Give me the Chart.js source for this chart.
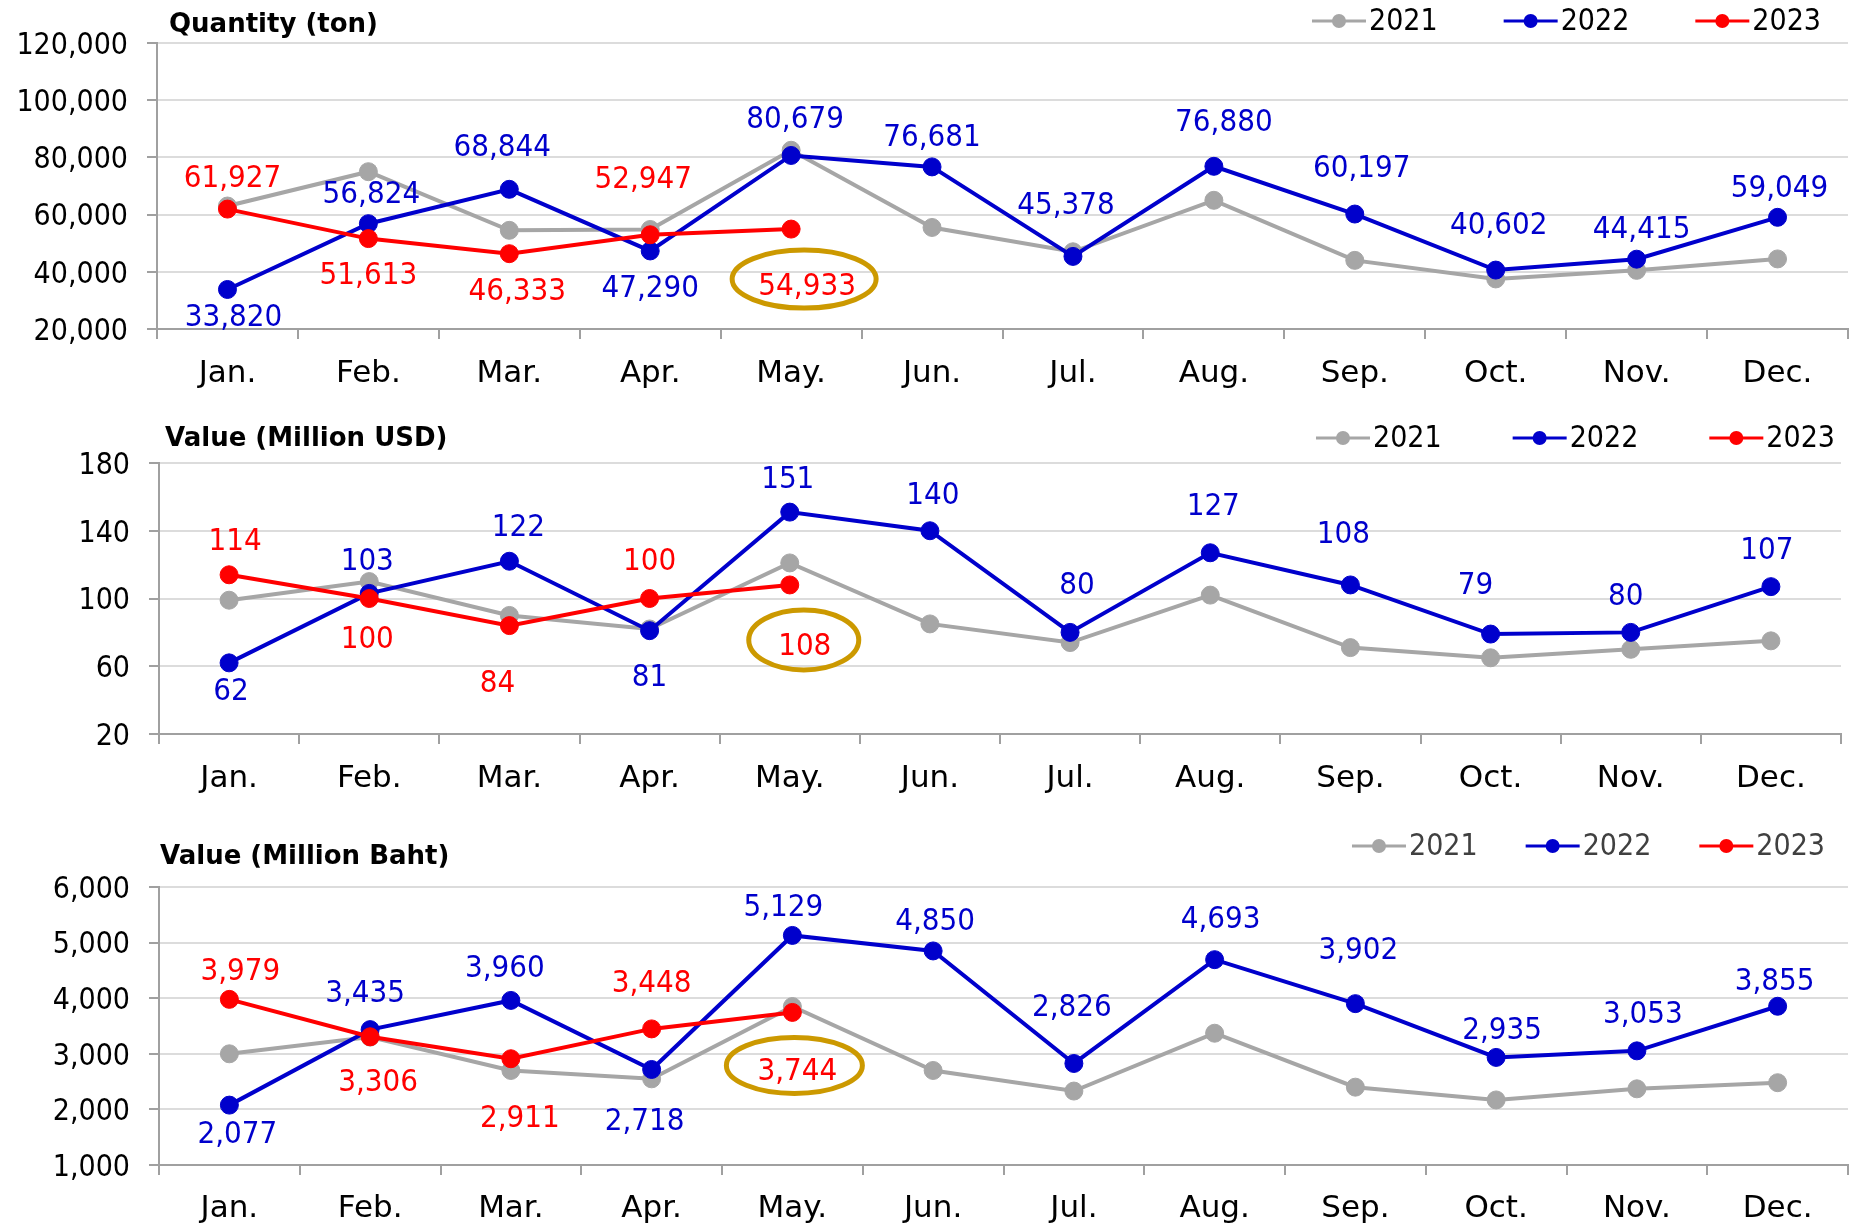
<!DOCTYPE html>
<html>
<head>
<meta charset="utf-8">
<title>Monthly quantity and value, 2021-2023</title>
<script src="https://cdn.jsdelivr.net/npm/chart.js@4.4.0/dist/chart.umd.min.js"></script>
<style>
  html, body { margin: 0; padding: 0; background: #fff; }
  body { width: 1858px; height: 1225px; position: relative; overflow: hidden; }
  .panel { position: absolute; left: 0; }
  canvas { display: block; }
</style>
</head>
<body>
<!-- canvases are transparent, so the panels may overlap a little -->
<div class="panel" style="top:0px"><canvas id="qtyChart" width="1858" height="400"></canvas></div>
<div class="panel" style="top:390px"><canvas id="usdChart" width="1858" height="420"></canvas></div>
<div class="panel" style="top:790px"><canvas id="bahtChart" width="1858" height="435"></canvas></div>

<script>
// ---- data ----
const months = ["Jan.", "Feb.", "Mar.", "Apr.", "May.", "Jun.", "Jul.", "Aug.", "Sep.", "Oct.", "Nov.", "Dec."];
const years = ["2021", "2022", "2023"];

const qty2021 = [63000, 75000, 54500, 54800, 82500, 55500, 47000, 65000, 44000, 37500, 40500, 44500];
const qty2022 = [33820, 56824, 68844, 47290, 80679, 76681, 45378, 76880, 60197, 40602, 44415, 59049];
const qty2023 = [61927, 51613, 46333, 52947, 54933];
const qtyTicks = [20000, 40000, 60000, 80000, 100000, 120000];

const usd2021 = [99, 110, 90, 82, 121, 85, 74, 102, 71, 65, 70, 75];
const usd2022 = [62, 103, 122, 81, 151, 140, 80, 127, 108, 79, 80, 107];
const usd2023 = [114, 100, 84, 100, 108];
const usdTicks = [20, 60, 100, 140, 180];

const baht2021 = [3000, 3300, 2700, 2550, 3850, 2700, 2330, 3370, 2400, 2170, 2370, 2480];
const baht2022 = [2077, 3435, 3960, 2718, 5129, 4850, 2826, 4693, 3902, 2935, 3053, 3855];
const baht2023 = [3979, 3306, 2911, 3448, 3744];
const bahtTicks = [1000, 2000, 3000, 4000, 5000, 6000];

// label placement (pixel offsets from each point), kept apart from the values
const qtyOff2022 = { dx: [6, 3, -7, 0, 4, 0, -7, 10, 7, 3, 5, 2], dy: [25, -32, -44, 35, -39, -32, -53, -46, -48, -47, -32, -31] };
const qtyOff2023 = { dx: [5, 0, 8, -7, 16], dy: [-33, 34, 35, -58, 55] };
const usdOff2022 = { dx: [2, -2, 9, 0, -2, 3, 7, 3, -7, -15, -5, -4], dy: [26, -34, -36, 44, -35, -38, -49, -49, -53, -51, -38, -39] };
const usdOff2023 = { dx: [6, -2, -12, 0, 15], dy: [-36, 38, 55, -40, 59] };
const bahtOff2022 = { dx: [8, -5, -6, -7, -9, 2, -2, 6, 3, 6, 6, -3], dy: [27, -39, -34, 49, -30, -32, -59, -43, -56, -29, -39, -27] };
const bahtOff2023 = { dx: [11, 8, 9, 0, 5], dy: [-30, 43, 57, -48, 57] };

const FONT = "'DejaVu Sans Condensed', 'DejaVu Sans', sans-serif";
const FONT_WIDE = "'DejaVu Sans', sans-serif";
const GRAY = "#A6A6A6";
const BLUE = "#0000CC";
const RED = "#FF0000";
const GOLD = "#CC9900";
const TEXT_SHIFT = 3; // 'middle' baseline sits a little high for these fonts

Chart.defaults.font.family = FONT;

// title on the left + line/dot legend on the right, same row
const headerPlugin = {
  id: "header",
  afterDraw(chart, args, opts) {
    const ctx = chart.ctx;
    ctx.save();
    ctx.textBaseline = "middle";
    ctx.textAlign = "left";
    ctx.fillStyle = "#000";
    ctx.font = "bold 26px " + FONT_WIDE;
    ctx.fillText(opts.title, opts.titleX, opts.titleY + TEXT_SHIFT);

    ctx.font = "30px " + FONT;
    let x = opts.legendRight;
    const sets = chart.data.datasets.slice().reverse();
    sets.forEach((ds) => {
      const w = ctx.measureText(ds.label).width;
      ctx.fillStyle = opts.legendColor;
      ctx.fillText(ds.label, x - w, opts.legendY + 1);
      const lineEnd = x - w - 3;
      const lineStart = lineEnd - 54;
      ctx.strokeStyle = ds.borderColor;
      ctx.lineWidth = 3;
      ctx.beginPath();
      ctx.moveTo(lineStart, opts.legendY);
      ctx.lineTo(lineEnd, opts.legendY);
      ctx.stroke();
      ctx.fillStyle = ds.borderColor;
      ctx.beginPath();
      ctx.arc((lineStart + lineEnd) / 2, opts.legendY, 7, 0, Math.PI * 2);
      ctx.fill();
      x = lineStart - opts.legendGap;
    });
    ctx.restore();
  }
};

// value labels next to the points, plus the ring round the latest month
const valueLabelPlugin = {
  id: "valueLabels",
  afterDatasetsDraw(chart) {
    const ctx = chart.ctx;
    chart.data.datasets.forEach((ds, i) => {
      if (!ds.offsets) return;
      const meta = chart.getDatasetMeta(i);
      ctx.save();
      ctx.font = "31px " + FONT;
      ctx.fillStyle = ds.borderColor;
      ctx.textAlign = "center";
      ctx.textBaseline = "middle";
      meta.data.forEach((pt, j) => {
        const v = ds.data[j];
        if (v === undefined || v === null) return;
        ctx.fillText(v.toLocaleString("en-US"), pt.x + ds.offsets.dx[j], pt.y + ds.offsets.dy[j] + TEXT_SHIFT);
      });
      if (ds.ring) {
        const last = meta.data.length - 1;
        const pt = meta.data[last];
        ctx.strokeStyle = GOLD;
        ctx.lineWidth = 5;
        ctx.beginPath();
        ctx.ellipse(pt.x + ds.offsets.dx[last] + ds.ring.dx, pt.y + ds.offsets.dy[last] + ds.ring.dy,
          ds.ring.rx, ds.ring.ry, 0, 0, Math.PI * 2);
        ctx.stroke();
      }
      ctx.restore();
    });
  }
};

function lineSet(label, data, color, order, extra) {
  return Object.assign({
    label: label,
    data: data,
    borderColor: color,
    backgroundColor: color,
    pointBackgroundColor: color,
    pointBorderColor: color,
    borderWidth: 4,
    pointRadius: 9,
    pointBorderWidth: 1,
    tension: 0,
    order: order,
  }, extra || {});
}

function makeChart(id, cfg) {
  const ctx = document.getElementById(id).getContext("2d");
  const canvasH = ctx.canvas.height;
  return new Chart(ctx, {
    type: "line",
    data: {
      labels: months,
      datasets: [
        lineSet(years[0], cfg.s2021, GRAY, 3),
        lineSet(years[1], cfg.s2022, BLUE, 2, { offsets: cfg.off2022 }),
        lineSet(years[2], cfg.s2023, RED, 1, { offsets: cfg.off2023, ring: cfg.ring }),
      ],
    },
    options: {
      responsive: false,
      animation: false,
      devicePixelRatio: 1,
      layout: { padding: { top: cfg.top, right: 1858 - cfg.right, bottom: 0, left: 0 } },
      plugins: {
        legend: { display: false },
        tooltip: { enabled: false },
        header: cfg.header,
      },
      scales: {
        x: {
          offset: true,
          afterFit: (scale) => { scale.height = canvasH - cfg.bottom; },
          grid: { offset: true, drawOnChartArea: false, tickLength: 10, color: "#A0A0A0", lineWidth: 2 },
          border: { color: "#A0A0A0", width: 2 },
          ticks: { color: "#000", font: { family: FONT_WIDE, size: 31 }, padding: cfg.xPad, maxRotation: 0, autoSkip: false },
        },
        y: {
          min: cfg.ticks[0],
          max: cfg.ticks[cfg.ticks.length - 1],
          afterBuildTicks: (scale) => { scale.ticks = cfg.ticks.map((v) => ({ value: v })); },
          afterFit: (scale) => { scale.width = cfg.left; },
          grid: { color: "#DCDCDC", lineWidth: 2, tickLength: 10, tickColor: "#A0A0A0" },
          border: { color: "#A0A0A0", width: 2 },
          ticks: { color: "#000", font: { size: 30 }, padding: 19, labelOffset: TEXT_SHIFT },
        },
      },
    },
    plugins: [headerPlugin, valueLabelPlugin],
  });
}

makeChart("qtyChart", {
  s2021: qty2021, s2022: qty2022, s2023: qty2023, ticks: qtyTicks,
  off2022: qtyOff2022, off2023: qtyOff2023,
  ring: { rx: 72, ry: 29, dx: -3, dy: -5 },
  top: 43, bottom: 329, left: 157, right: 1851, xPad: 16,
  header: { title: "Quantity (ton)", titleX: 169, titleY: 22, legendY: 21, legendRight: 1821, legendGap: 66, legendColor: "#000" },
});

makeChart("usdChart", {
  s2021: usd2021, s2022: usd2022, s2023: usd2023, ticks: usdTicks,
  off2022: usdOff2022, off2023: usdOff2023,
  ring: { rx: 55, ry: 30, dx: -1, dy: -4 },
  top: 73, bottom: 344, left: 159, right: 1841, xPad: 16,
  header: { title: "Value (Million USD)", titleX: 165, titleY: 46, legendY: 48, legendRight: 1835, legendGap: 71, legendColor: "#000" },
});

makeChart("bahtChart", {
  s2021: baht2021, s2022: baht2022, s2023: baht2023, ticks: bahtTicks,
  off2022: bahtOff2022, off2023: bahtOff2023,
  ring: { rx: 68, ry: 28, dx: -3, dy: -4 },
  top: 97, bottom: 375, left: 159, right: 1857, xPad: 15,
  header: { title: "Value (Million Baht)", titleX: 160, titleY: 64, legendY: 56, legendRight: 1825, legendGap: 48, legendColor: "#404040" },
});
</script>
</body>
</html>
